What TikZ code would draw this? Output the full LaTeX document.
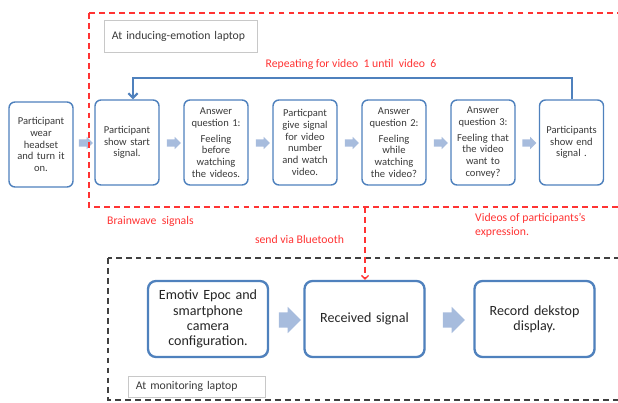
\documentclass[tikz,border=0pt]{standalone}
\usepackage{fontspec}
\setmainfont{Carlito}
\usetikzlibrary{shapes.arrows,shadows,arrows.meta}

\definecolor{boxblue}{HTML}{4F81BD}
\definecolor{arrowfill}{HTML}{A7BCDD}
\definecolor{dashred}{HTML}{FF3333}
\definecolor{dashgray}{HTML}{404040}
\definecolor{titlegray}{HTML}{C8C8C8}
\definecolor{textgray}{HTML}{3A3A3A}

\begin{document}
\begin{tikzpicture}[x=0.03cm,y=-0.03cm,
    stepbox/.style={draw=boxblue,line width=1.2pt,rounded corners=0.18cm,fill=white,
      text width=1.74cm,inner xsep=0.09cm,inner ysep=0pt,minimum height=2.55cm,
      align=center,text=textgray,font=\fontsize{9}{10}\selectfont},
    bigbox/.style={draw=boxblue,line width=2pt,rounded corners=0.24cm,fill=white,
      drop shadow={opacity=0.35,shadow xshift=0.8pt,shadow yshift=-0.8pt},
      text width=3.3cm,inner xsep=0.15cm,inner ysep=0pt,minimum height=2.28cm,
      align=center,text=black!85,font=\fontsize{12}{13}\selectfont},
    smallarrow/.style={single arrow,fill=arrowfill,inner xsep=0pt,inner ysep=0.105cm,
      minimum height=0.42cm,single arrow head extend=0.075cm,font=\tiny},
    bigarrow/.style={single arrow,fill=arrowfill,inner xsep=0pt,inner ysep=0.225cm,
      minimum height=0.66cm,single arrow head extend=0.165cm,font=\tiny},
    titlebox/.style={draw=titlegray,fill=white,line width=0.8pt,align=left,
      inner xsep=0.24cm,inner ysep=0pt,text=textgray,font=\fontsize{10}{12}\selectfont},
    redlabel/.style={text=dashred,inner sep=0pt,align=left,font=\fontsize{10}{12}\selectfont},
    reddash/.style={draw=dashred,line width=1.1pt,dash pattern=on 5pt off 3.5pt},
    graydash/.style={draw=dashgray,line width=1.1pt,dash pattern=on 5pt off 3.5pt},
    looparrow/.style={draw=boxblue,line width=1.7pt,-{Straight Barb[length=4pt,width=8pt]}}
  ]
  \useasboundingbox (0,0) rectangle (618,403);

  % steps on the inducing-emotion laptop
  \begin{scope}[every node/.style={stepbox}]
    \node (a0) at (41,144.5)  {Participant\\ wear\\ headset\\ and turn it\\ on.};
    \node (a1) at (127,142.5) {Participant\\ show start\\ signal.};
    \node (a2) at (216,142.5) {Answer\\ question 1:\\[3.5pt] Feeling\\ before\\ watching\\ the videos.};
    \node (a3) at (305,142.5) {Particpant\\ give signal\\ for video\\ number\\ and watch\\ video.};
    \node (a4) at (394,142.5) {Answer\\ question 2:\\[3.5pt] Feeling\\ while\\ watching\\ the video?};
    \node (a5) at (483,142.5) {Answer\\ question 3:\\[3.5pt] Feeling that\\ the video\\ want to\\ convey?};
    \node (a6) at (571.5,142.5) {Participants\\ show end\\ signal .};
  \end{scope}

  \begin{scope}[every node/.style={smallarrow}]
    \node (s1) at (84,143)    {};
    \node (s2) at (172,143)   {};
    \node (s3) at (261,143)   {};
    \node (s4) at (350,143)   {};
    \node (s5) at (439,143)   {};
    \node (s6) at (527.5,143) {};
  \end{scope}

  % steps on the monitoring laptop
  \begin{scope}[every node/.style={bigbox}]
    \node (b1) at (208,319)   {Emotiv Epoc and\\ smartphone\\ camera\\ configuration.};
    \node (b2) at (364.5,319) {Received signal};
    \node (b3) at (534.5,319) {Record dekstop\\ display.};
  \end{scope}

  \begin{scope}[every node/.style={bigarrow}]
    \node (m1) at (286,320) {};
    \node (m2) at (450,320) {};
  \end{scope}

  % frames
  \draw[reddash]  (89,13) rectangle (640,207);
  \draw[graydash] (108,258) rectangle (640,400);

  \node[titlebox,text width=4.11cm,minimum height=0.96cm] (t1) at (180.5,36) {At inducing-emotion laptop};
  \node[titlebox,text width=3.63cm,minimum height=0.63cm] (t2) at (196.5,386.5) {At monitoring laptop};

  % loop and transfer
  \coordinate (turn) at (133,78);
  \draw[looparrow] (a6.north) |- (turn) -- (turn |- a1.north);

  \coordinate (send) at (365,207);
  \draw[reddash,-{Straight Barb[length=3pt,width=6pt]}] (send) -- (send |- b2.north);

  \node[redlabel] (rep) at (351,64) {Repeating for video\ \ 1 until\ \ video\ \ 6};
  \node[redlabel,anchor=west] (brain) at (107,221) {Brainwave\ \ signals};
  \node[redlabel] (bt) at (299.5,239) {send via Bluetooth};
  \node[redlabel,anchor=north west] (vid) at (475,213) {Videos of participants's\\ expression.};

\end{tikzpicture}
\end{document}
